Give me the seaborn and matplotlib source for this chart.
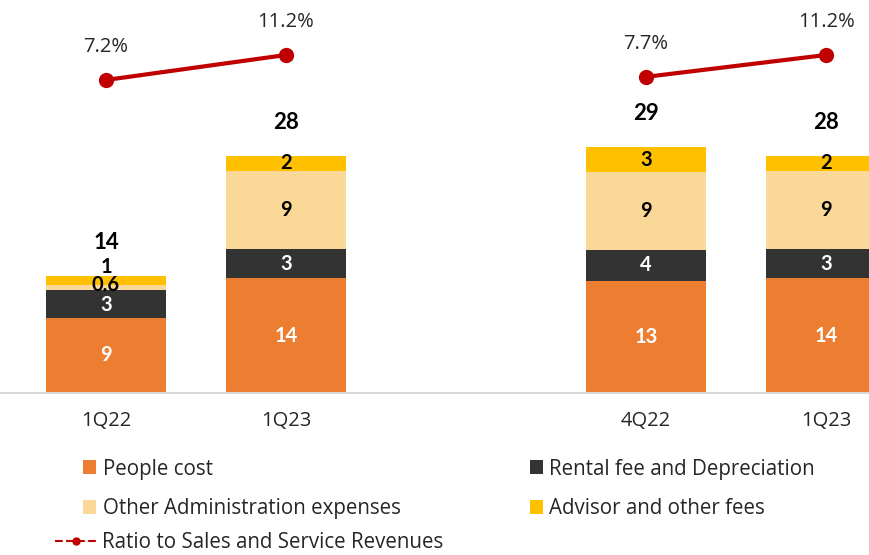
import pandas as pd
import matplotlib.pyplot as plt
import seaborn as sns
from matplotlib.patches import Patch
from matplotlib.lines import Line2D

# ---------------- data ----------------
keys = ["1Q22", "1Q23a", "gap", "4Q22", "1Q23b"]
tick_labels = ["1Q22", "1Q23", "", "4Q22", "1Q23"]
quarters = ["1Q22", "1Q23a", "4Q22", "1Q23b"]
people = [8.9, 13.6, 13.3, 13.6]
rental = [3.3, 3.4, 3.6, 3.4]
other_admin = [0.55, 9.3, 9.2, 9.3]
advisor = [1.1, 1.8, 3.0, 1.8]
ratio = [7.2, 11.2, 7.7, 11.2]
ratio_pair = ["a", "a", "b", "b"]

series = ["People cost", "Rental fee and Depreciation",
          "Other Administration expenses", "Advisor and other fees"]
colors = ["#ED7D31", "#333333", "#FAD898", "#FFC000"]
label_colors = ["white", "white", "black", "black"]

df = pd.DataFrame({"key": quarters, "People cost": people,
                   "Rental fee and Depreciation": rental,
                   "Other Administration expenses": other_admin,
                   "Advisor and other fees": advisor})
cum = df[series].cumsum(axis=1)
cum["key"] = df["key"]
df["total"] = df[series].sum(axis=1)

sns.set_style("white")
plt.rcParams["font.family"] = ["Open Sans", "DejaVu Sans"]
num_font = ["Lato", "DejaVu Sans"]

fig = plt.figure(figsize=(8.7, 5.55), dpi=100)
ax = fig.add_axes([0, 162 / 555, 1, 393 / 555])

# stacked bars: draw cumulative heights from top layer down
for s, c in zip(series[::-1], colors[::-1]):
    sns.barplot(data=cum, x="key", y=s, order=keys, color=c, width=0.667,
                saturation=1, errorbar=None, linewidth=0, ax=ax)

pos = {k: i for i, k in enumerate(keys)}
for _, row in df.iterrows():
    x = pos[row["key"]]
    bottom = 0
    small_bar = row["total"] < 20
    for s, lc in zip(series, label_colors):
        v = row[s]
        txt = f"{v:.1f}" if v < 1 else f"{round(v):d}"
        dy = 0
        if small_bar:
            # crowded thin layers: nudge like the original
            dy = {"Advisor and other fees": 10, "Other Administration expenses": 2,
                  "Rental fee and Depreciation": -1}.get(s, 0)
        ax.annotate(txt, (x, bottom + v / 2), xytext=(0, dy), textcoords="offset points",
                    ha="center", va="center", color=lc, fontsize=14.5, fontweight="bold",
                    family=num_font)
        bottom += v
    ax.annotate(f"{round(row['total']):d}", (x, row["total"]), xytext=(0, 24),
                textcoords="offset points", ha="center", va="center",
                fontsize=16, fontweight="bold", color="black", family=num_font)

ax.set_ylim(0, 46.5)
ax.set_xlim(-0.589, 4.244)
ax.set_xticks(range(len(keys)))
ax.set_xticklabels(tick_labels, fontsize=14.5)
ax.tick_params(axis="x", length=0, pad=13)
ax.set_yticks([])
ax.set_xlabel("")
ax.set_ylabel("")
for sp in ["top", "left", "right"]:
    ax.spines[sp].set_visible(False)
ax.spines["bottom"].set_color("#D9D9D9")
ax.spines["bottom"].set_linewidth(1.5)

# ratio line on secondary axis
ax2 = ax.twinx()
rdf = pd.DataFrame({"pos": [pos[k] for k in quarters], "ratio": ratio, "pair": ratio_pair})
sns.lineplot(data=rdf, x="pos", y="ratio", units="pair", estimator=None, color="#C00000",
             linewidth=3, marker="o", markersize=11, markeredgewidth=0, ax=ax2)
for xp, r in zip(rdf["pos"], ratio):
    ax2.annotate(f"{r:.1f}%", (xp, r), xytext=(0, 24), textcoords="offset points",
                 ha="center", va="center", fontsize=14.5)
ax2.set_ylim(-42.9, 20)
ax2.set_xlim(-0.589, 4.244)
ax2.set_yticks([])
ax2.set_ylabel("")
for sp in ax2.spines.values():
    sp.set_visible(False)

# legends
handles = [Patch(facecolor=c, edgecolor="none") for c in colors]
order_idx = [0, 2, 1, 3]
fig.legend([handles[i] for i in order_idx], [series[i] for i in order_idx],
           ncol=2, loc="center left", bbox_to_anchor=(83 / 870, 1 - 489 / 555),
           frameon=False, fontsize=14.8, handlelength=0.65, handleheight=0.65,
           handletextpad=0.3, columnspacing=6.3, labelspacing=0.92,
           borderaxespad=0, borderpad=0)
line_h = Line2D([], [], color="#C00000", linestyle="--", marker="o", markersize=5,
                linewidth=1.5)
fig.legend([line_h], ["Ratio to Sales and Service Revenues"], loc="center left",
           bbox_to_anchor=(55 / 870, 1 - 543 / 555), frameon=False, fontsize=14.8,
           handlelength=2.0, handletextpad=0.3, borderaxespad=0, borderpad=0)

fig.savefig("out.png", dpi=100)
